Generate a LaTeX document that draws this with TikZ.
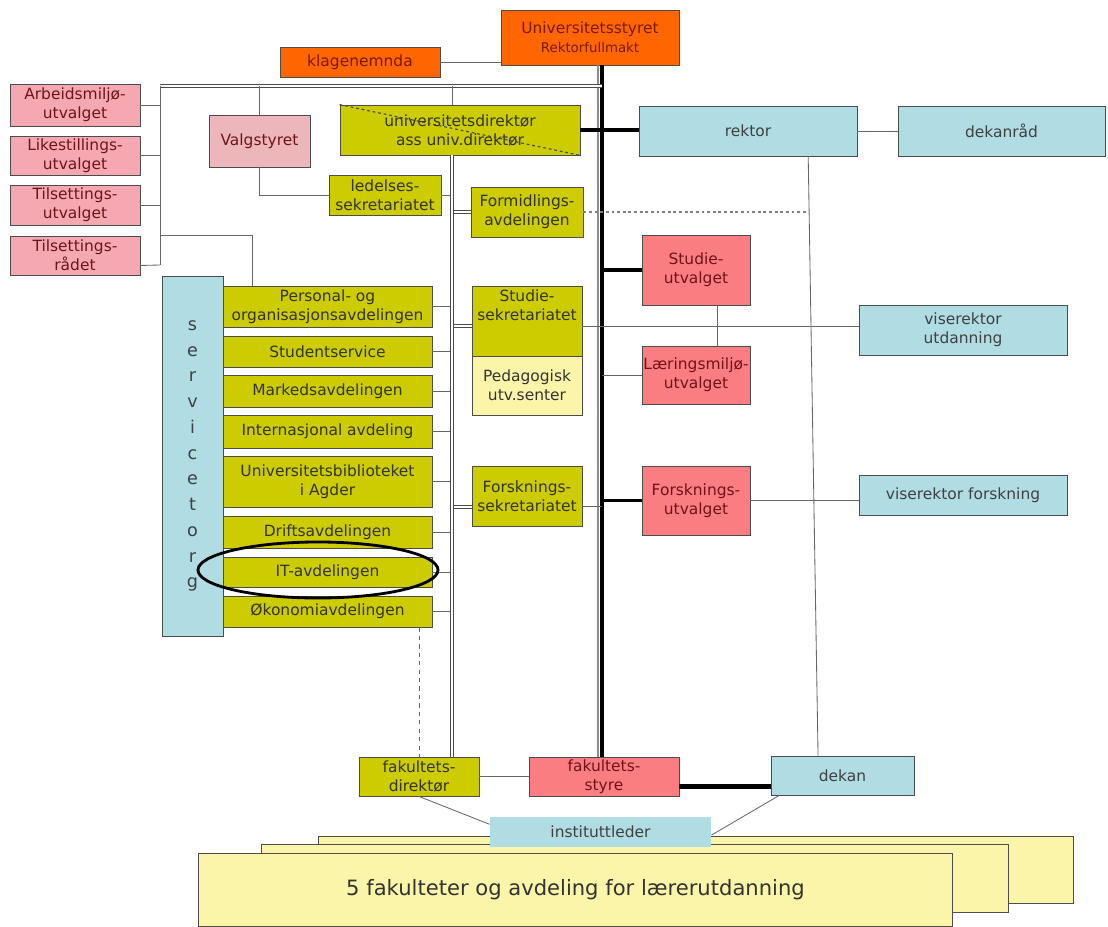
\documentclass[tikz,border=0pt]{standalone}
\usepackage{fontspec}
\setmainfont{DejaVu Sans}
\usetikzlibrary{calc, shapes.geometric}
\definecolor{styreorange}{RGB}{255,102,0}
\definecolor{styretext}{RGB}{120,25,0}
\definecolor{komitepink}{RGB}{246,168,178}
\definecolor{valgpink}{RGB}{236,182,186}
\definecolor{adminolive}{RGB}{204,204,0}
\definecolor{utvalgred}{RGB}{250,125,130}
\definecolor{redtext}{RGB}{110,20,25}
\definecolor{ledelseblue}{RGB}{176,220,228}
\definecolor{paleyellow}{RGB}{250,245,168}

\begin{document}
\begin{tikzpicture}[
  x=0.025cm, y=-0.025cm,
  box/.style={
    rectangle, draw=black!70, line width=0.6pt,
    inner sep=1pt, align=center,
    font=\fontsize{11}{13.5}\selectfont
  },
  styre/.style={box, fill=styreorange, text=styretext},
  komite/.style={box, fill=komitepink, text=redtext},
  valgbox/.style={box, fill=valgpink, text=redtext},
  adm/.style={box, fill=adminolive, text=black!80},
  utvalg/.style={box, fill=utvalgred, text=redtext},
  leder/.style={box, fill=ledelseblue, text=black!75},
  pale/.style={box, fill=paleyellow, text=black!80},
  link/.style={draw=black!60, line width=0.6pt},
  bus/.style={draw=black!70, line width=0.7pt, double=white, double distance=1.3pt},
  thickline/.style={draw=black, line width=2.8pt},
  dotline/.style={draw=gray, dash pattern=on 2pt off 2pt, line width=0.8pt},
  dashline/.style={draw=gray!80!black, dashed, line width=0.6pt},
]
\useasboundingbox (0,0) rectangle (1108,926);

%% Board
\node[styre, minimum width=4.45cm, minimum height=1.375cm] (styret) at (590,37.5)
  {Universitetsstyret\\{\fontsize{9.5}{12}\selectfont Rektorfullmakt}};
\node[styre, minimum width=4cm, minimum height=0.75cm] (klage) at (360,62) {klagenemnda};

%% Committees on the left
\node[komite, minimum width=3.25cm, minimum height=1.05cm]  (arbeid) at (75,105)   {Arbeidsmiljø-\\utvalget};
\node[komite, minimum width=3.25cm, minimum height=0.975cm] (likest) at (75,155.5) {Likestillings-\\utvalget};
\node[komite, minimum width=3.25cm, minimum height=1cm]     (tilsU)  at (75,205)   {Tilsettings-\\utvalget};
\node[komite, minimum width=3.25cm, minimum height=0.975cm] (tilsR)  at (75,255.5) {Tilsettings-\\rådet};
\node[valgbox, minimum width=2.525cm, minimum height=1.3cm] (valg)   at (259.5,141) {Valgstyret};

%% Director and staff
\node[adm, minimum width=6cm, minimum height=1.25cm]   (univdir) at (460,130) {universitetsdirektør\\ass univ.direktør};
\node[adm, minimum width=2.8cm, minimum height=1cm]    (ledelse) at (385,195) {ledelses-\\sekretariatet};
\node[adm, minimum width=2.8cm, minimum height=1.25cm] (formid)  at (527,212) {Formidlings-\\avdelingen};

%% Rector
\node[leder, minimum width=5.45cm, minimum height=1.25cm]  (rektor)    at (748,131)    {rektor};
\node[leder, minimum width=5.175cm, minimum height=1.25cm] (dekanraad) at (1001.5,131) {dekanråd};
\node[leder, minimum width=5.2cm, minimum height=1.25cm]   (vrUtd)     at (963,330)    {viserektor\\utdanning};
\node[leder, minimum width=5.2cm, minimum height=1cm]      (vrFor)     at (963,495)    {viserektor forskning};

%% Board committees
\node[utvalg, minimum width=2.7cm, minimum height=1.75cm]  (studU)   at (696,270)   {Studie-\\utvalget};
\node[utvalg, minimum width=2.7cm, minimum height=1.45cm]  (laering) at (696,375)   {Læringsmiljø-\\utvalget};
\node[utvalg, minimum width=2.7cm, minimum height=1.725cm] (forskU)  at (696,500.5) {Forsknings-\\utvalget};

%% Service organisation
\node[leder, minimum width=1.525cm, minimum height=9cm, font=\fontsize{12.5}{18.3}\selectfont] (service) at (192.5,456)
  {s\\e\\r\\v\\i\\c\\e\\t\\o\\r\\g};
\node[adm, minimum width=5.225cm, minimum height=1.025cm] (personal) at (327.5,306.5) {Personal- og\\organisasjonsavdelingen};
\node[adm, minimum width=5.225cm, minimum height=0.775cm] (studserv) at (327.5,351.5) {Studentservice};
\node[adm, minimum width=5.225cm, minimum height=0.8cm]   (marked)   at (327.5,391)   {Markedsavdelingen};
\node[adm, minimum width=5.225cm, minimum height=0.825cm] (intern)   at (327.5,431.5) {Internasjonal avdeling};
\node[adm, minimum width=5.225cm, minimum height=1.275cm] (bibl)     at (327.5,481.5) {Universitetsbiblioteket\\i Agder};
\node[adm, minimum width=5.225cm, minimum height=0.8cm]   (drift)    at (327.5,532)   {Driftsavdelingen};
\node[adm, minimum width=5.225cm, minimum height=0.75cm]  (itavd)    at (327.5,572)   {IT-avdelingen};
\node[adm, minimum width=5.225cm, minimum height=0.775cm] (okonomi)  at (327.5,611.5) {Økonomiavdelingen};

\node[adm, minimum width=2.75cm, minimum height=1.75cm]   (studS)  at (527,321)   {Studie-\\sekretariatet\\[0.3cm]};
\node[pale, minimum width=2.75cm, minimum height=1.475cm] (pedag)  at (527,385.5) {Pedagogisk\\utv.senter};
\node[adm, minimum width=2.75cm, minimum height=1.5cm]    (forskS) at (527,496)   {Forsknings-\\sekretariatet};

%% Faculty level
\node[adm, minimum width=3cm, minimum height=0.975cm]      (fakdir)   at (419,776.5) {fakultets-\\direktør};
\node[utvalg, minimum width=3.75cm, minimum height=0.975cm] (fakstyre) at (604,776.5) {fakultets-\\styre};
\node[leder, minimum width=3.575cm, minimum height=0.975cm] (dekan)    at (842.5,775.5) {dekan};

\node[pale, minimum width=18.85cm, minimum height=1.675cm] (page3) at (696,869.5) {};
\node[pale, minimum width=18.65cm, minimum height=1.7cm]   (page2) at (635,878)   {};
\node[pale, minimum width=18.825cm, minimum height=1.825cm, font=\fontsize{15}{18}\selectfont] (fak) at (575.5,889.5)
  {5 fakulteter og avdeling for lærerutdanning};
\node[leder, draw=none, minimum width=5.525cm, minimum height=0.75cm] (inst) at (600.5,832) {instituttleder};

%% Trunk lines
\coordinate (busL)  at (160,86);
\coordinate (busLM) at (160,235);
\coordinate (busLB) at (160,265);
\coordinate (stab)  at (452,155);
\coordinate (trunk) at (602,65);
\coordinate (trunkG) at (598,65);
\coordinate (sSw) at ($(studS.west)!0.15!(studS.south west)$);
\coordinate (sSe) at ($(studS.east)!0.15!(studS.south east)$);
\coordinate (fSw) at ($(forskS.west)!0.35!(forskS.south west)$);
\coordinate (fSe) at ($(forskS.east)!0.35!(forskS.south east)$);
\coordinate (fsE) at ($(fakstyre.east)!0.5!(fakstyre.south east)$);
\coordinate (tRe) at ($(tilsR.east)!0.5!(tilsR.south east)$);

\draw[link] (klage.east) -- (klage.east -| styret.west);
\draw[draw=black!45, line width=0.8pt] (trunkG) -- (trunkG |- fakstyre.north);
\draw[thickline] (trunk) -- (trunk |- fakstyre.north);
\draw[bus] (busL) -- (busL -| trunk);
\draw[link] (busL) -- (busLB);

% committees
\draw[link] (arbeid.east) -- (arbeid.east -| busL);
\draw[link] (likest.east) -- (likest.east -| busL);
\draw[link] (tilsU.east) -- (tilsU.east -| busL);
\draw[link] (tRe) -- (busLB);
\draw[link] (busLM) -| ($(personal.north west)!0.14!(personal.north east)$);
\draw[link] (valg.north) -- (valg.north |- busL);
\draw[link] (valg.south) |- (ledelse.west);

% staff line
\draw[link] (stab |- busL) -- (stab |- univdir.north);
\draw[link] (ledelse.east) -- (ledelse.east -| stab);
\draw[bus] (formid.west) -- (formid.west -| stab);
\draw[bus] (sSw) -- (sSw -| stab);
\draw[bus] (fSw) -- (fSw -| stab);
\foreach \d in {personal, studserv, marked, intern, bibl, drift, itavd, okonomi} {
  \draw[link] (\d.east) -- (\d.east -| stab);
}
\draw[bus] (stab |- univdir.south) -- (stab |- fakdir.north);
\draw[dotline, draw=black!70] (univdir.north west) -- (univdir.south east);

% rector side
\draw[thickline] (univdir.east) -- (univdir.east -| rektor.west);
\draw[link] (rektor.east) -- (rektor.east -| dekanraad.west);
\coordinate (rekfoot) at ($(rektor.south west)!0.775!(rektor.south east)$);
\draw[link] (rekfoot) -- ($(dekan.north west)!0.33!(dekan.north east)$);
\draw[dotline] (formid.east) -- (formid.east -| rekfoot);
\draw[thickline] (studU.west) -- (studU.west -| trunk);
\draw[link] (laering.west) -- (laering.west -| trunk);
\draw[thickline] (forskU.west) -- (forskU.west -| trunk);
\draw[link] (fSe) -- (fSe -| trunk);
\draw[link] (sSe) -- (sSe -| vrUtd.west);
\draw[link] ($(studU.south)!0.4!(studU.south east)$) -- ($(laering.north)!0.4!(laering.north east)$);
\draw[link] (forskU.east) -- (forskU.east -| vrFor.west);

% faculty
\draw[dashline] (fakdir.north |- okonomi.south) -- (fakdir.north);
\draw[link] (fakdir.east) -- (fakstyre.west);
\draw[thickline, line width=3.6pt] (fsE) -- (fsE -| dekan.west);
\draw[link] (fakdir.south) -- ($(inst.north west)!0.25!(inst.south west)$);
\draw[link] ($(dekan.south west)!0.06!(dekan.south east)$) -- ($(inst.north east)!0.6!(inst.south east)$);

%% Highlight
\node[ellipse, draw=black, line width=2pt, minimum width=6cm, minimum height=1.4cm] (ring) at (318,570) {};

\end{tikzpicture}
\end{document}
